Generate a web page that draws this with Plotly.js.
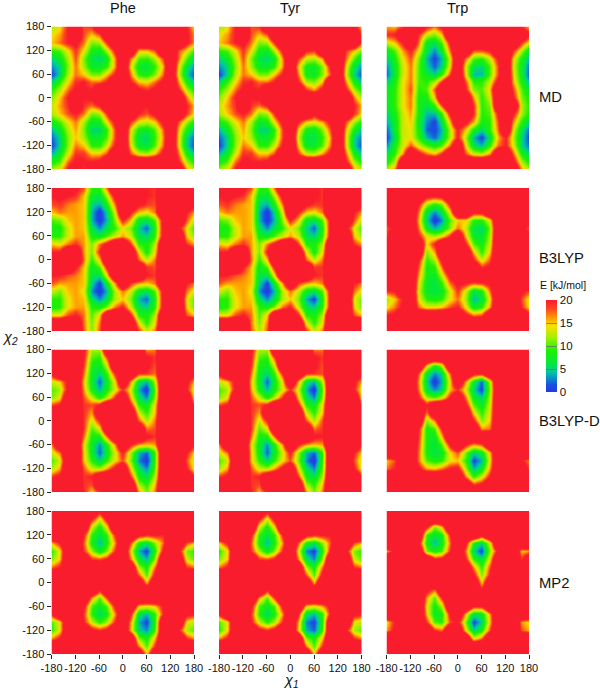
<!DOCTYPE html>
<html><head><meta charset="utf-8">
<script src="https://cdn.plot.ly/plotly-3.0.1.min.js"></script>
<style>html,body{margin:0;padding:0;background:#fff}</style></head>
<body><div id="plot" style="width:600px;height:691px"></div>
<script>
const chi1 = [-180,-160,-140,-120,-100,-80,-60,-40,-20,0,20,40,60,80,100,120,140,160,180];
const chi2 = [180,160,140,120,100,80,60,40,20,0,-20,-40,-60,-80,-100,-120,-140,-160,-180];
const residues = ["Phe","Tyr","Trp"];
const methods = ["MD","B3LYP","B3LYP-D","MP2"];
const tickVals = [-180,-120,-60,0,60,120,180];
const offScale = 28;

const pheMD = [
[12,14,20,22,18,19,22,22,22,22,22,22,22,22,22,22,22,20,14],
[14,16,20,22,18,15,18,22,22,22,22,22,22,22,22,22,22,21,16],
[15,17,20,21,17,11,12,19,22,22,22,22,22,22,22,22,22,21,16],
[9,10,14,19,14,8,7,12,20,22,22,15,15,18,22,22,18,14,9],
[5,7,12,18,11,6,5,7,16,22,17,10,9,12,18,22,17,10,5],
[3,5,11,17,12,7,7,9,16,22,14,7,6,9,15,22,14,6,3],
[1,5,12,17,15,11,11,15,20,22,17,9,8,11,17,22,13,5,1],
[5,9,14,19,20,17,17,20,22,22,20,15,14,17,21,22,16,8,4],
[9,12,17,21,20,20,22,22,22,22,22,21,19,21,22,22,20,12,8],
[11,15,20,22,20,21,22,22,22,22,22,22,22,22,22,22,22,17,11],
[13,16,19,22,19,17,20,22,22,22,22,21,20,22,22,22,22,20,15],
[12,15,18,20,17,11,12,19,22,22,22,20,18,21,22,22,22,19,14],
[8,10,14,17,12,7,8,14,21,22,19,14,13,15,21,22,18,12,8],
[4,7,12,16,11,5,5,9,18,22,14,8,7,10,17,22,15,8,4],
[2,5,11,15,12,7,7,10,18,22,13,6,5,9,16,22,14,5,2],
[1,5,11,17,15,9,9,13,20,22,14,7,6,10,17,22,14,5,1],
[4,7,13,19,19,15,15,18,22,22,18,13,12,15,21,22,17,8,4],
[8,10,17,21,20,20,21,22,22,22,22,22,22,22,22,22,20,12,8],
[12,14,20,22,19,22,22,22,22,22,22,22,22,22,22,22,22,16,12]];

const tyrMD = [
[12,14,20,22,18,19,22,22,22,22,22,22,22,22,22,22,22,21,15],
[14,16,20,22,18,15,18,22,22,22,22,22,22,22,22,22,22,22,17],
[15,17,20,21,17,11,12,19,22,22,22,22,22,22,22,22,22,22,17],
[9,10,14,19,14,8,7,12,20,22,22,20,19,22,22,22,19,15,10],
[5,7,12,18,11,6,5,7,16,22,19,13,12,16,22,22,17,10,5],
[3,5,11,17,12,7,7,9,16,22,15,8,7,11,20,22,14,6,3],
[1,5,12,17,15,11,11,15,20,22,17,8,7,11,18,22,13,5,1],
[5,9,14,19,20,17,17,20,22,22,20,12,11,15,22,22,16,8,4],
[9,12,17,21,20,20,22,22,22,22,22,19,16,21,22,22,20,12,8],
[11,15,20,22,20,21,22,22,22,22,22,22,22,22,22,22,22,17,11],
[13,16,19,22,19,17,20,22,22,22,22,22,22,22,22,22,22,20,15],
[12,15,18,20,17,11,12,19,22,22,22,22,21,22,22,22,22,19,14],
[8,10,14,17,12,7,8,14,21,22,20,15,14,16,21,22,18,12,8],
[4,7,12,16,11,5,5,9,18,22,15,8,7,11,18,22,15,8,4],
[2,5,11,15,12,7,7,10,18,22,13,6,6,9,16,22,14,5,2],
[1,5,11,17,15,9,9,13,20,22,15,7,7,10,17,22,14,5,1],
[4,7,13,19,19,15,15,18,22,22,19,13,12,16,21,22,17,8,4],
[8,10,17,21,20,20,21,22,22,22,22,22,22,22,22,22,20,12,8],
[12,14,20,22,20,22,22,22,22,22,22,22,22,22,22,22,22,16,12]];

const trpMD = [
[16,15,19,22,22,20,17,21,22,22,22,22,22,22,22,22,22,19,15],
[19,20,22,22,19,13,11,15,22,22,22,22,22,22,22,22,22,22,20],
[13,15,20,22,17,7,6,10,20,22,22,22,22,22,22,22,22,19,13],
[7,10,16,20,14,6,3,7,17,22,22,18,18,20,22,22,19,12,6],
[5,8,14,18,11,4,1,4,13,22,17,10,9,13,20,22,14,8,4],
[3,7,13,17,10,5,2,5,14,22,13,6,5,10,18,22,13,7,2],
[2,7,13,17,10,7,5,9,18,22,14,4,4,10,18,22,14,7,1],
[5,8,14,17,10,9,12,19,22,22,18,9,9,13,21,22,15,8,4],
[7,9,14,18,9,10,18,22,22,22,20,11,10,15,22,22,18,10,6],
[7,9,14,17,8,8,15,22,22,22,22,16,9,13,22,22,20,11,8],
[7,9,14,17,8,6,9,18,22,22,22,19,9,11,22,22,22,12,9],
[5,8,13,16,8,4,4,9,20,22,22,19,9,10,20,22,20,12,8],
[4,7,13,15,7,3,1,6,15,22,21,16,8,9,18,22,16,9,5],
[2,7,13,14,8,2,1,4,12,20,15,8,5,9,17,22,13,6,2],
[1,6,13,14,9,4,2,5,12,20,12,4,1,6,15,20,12,5,1],
[3,8,13,18,13,10,8,10,17,22,14,6,4,9,17,20,13,5,2],
[6,9,16,22,21,17,15,19,22,22,18,13,12,16,22,22,17,8,5],
[8,12,22,22,22,22,22,22,22,22,22,22,22,22,22,22,21,12,8],
[12,17,22,22,22,22,22,22,22,22,22,22,22,22,22,22,22,16,12]];

const pheB3 = [
[20,22,22,21,18,9,9,17,22,22,22,22,20,19,22,22,22,22,22],
[20,21,20,19,15,7,6,12,21,22,22,22,20,19,22,22,22,22,22],
[18,19,17,16,15,5,4,8,17,22,22,21,19,18,22,22,22,22,20],
[15,17,16,16,15,4,0,5,13,22,20,15,14,17,22,22,22,20,16],
[10,11,15,16,15,4,0,4,11,20,15,7,6,10,21,22,22,18,12],
[8,8,13,16,15,6,3,6,9,14,11,5,2,8,21,22,21,14,9],
[9,9,13,16,16,8,7,10,13,16,13,6,5,9,21,22,22,15,11],
[15,14,17,19,16,11,17,21,22,22,19,9,8,12,22,22,22,19,16],
[20,20,22,22,16,11,20,22,22,22,22,14,8,14,22,22,22,22,21],
[22,22,22,22,17,9,15,22,22,22,22,18,13,17,22,22,22,22,22],
[21,22,22,20,15,7,10,20,22,22,22,22,19,18,22,22,22,22,22],
[20,20,18,17,15,6,6,14,22,22,22,22,20,19,22,22,22,22,22],
[18,16,16,16,15,5,1,7,16,22,19,16,15,17,22,22,22,20,17],
[13,11,15,16,14,3,0,4,12,17,13,7,6,10,21,22,22,17,13],
[9,9,14,16,15,6,3,6,12,15,11,4,2,8,21,22,22,14,10],
[8,9,14,16,16,9,8,11,17,20,13,6,5,9,21,22,22,15,10],
[14,14,18,20,17,10,15,22,22,22,20,9,8,12,22,22,22,18,15],
[22,22,22,22,17,11,17,22,22,22,22,14,9,14,22,22,22,22,22],
[22,22,22,22,18,11,18,22,22,22,22,19,13,17,22,22,22,22,22]];

const tyrB3 = [
[20,22,22,21,18,9,9,17,22,22,22,22,21,19,22,22,22,22,22],
[20,21,20,19,15,7,6,12,21,22,22,22,21,19,22,22,22,22,22],
[18,19,17,16,15,5,4,8,17,22,22,21,19,19,22,22,22,22,20],
[15,17,16,16,15,4,0,5,13,22,20,15,14,17,22,22,22,20,16],
[10,11,15,16,15,4,0,4,11,20,15,7,6,10,21,22,22,18,12],
[8,8,13,16,15,6,3,6,9,14,11,5,2,8,21,22,21,14,9],
[9,9,13,16,16,8,7,10,13,16,13,6,5,9,21,22,22,15,11],
[15,14,17,19,16,11,17,21,22,22,19,9,8,12,22,22,22,19,16],
[20,20,22,22,16,11,20,22,22,22,22,14,8,14,22,22,22,22,21],
[22,22,22,22,17,9,15,22,22,22,22,18,13,17,22,22,22,22,22],
[21,22,22,20,15,7,10,20,22,22,22,22,19,19,22,22,22,22,22],
[20,20,18,17,15,6,6,14,22,22,22,22,20,19,22,22,22,22,22],
[18,16,16,16,15,5,1,7,16,22,19,16,15,17,22,22,22,20,17],
[13,11,15,16,14,3,0,4,12,17,13,7,6,10,21,22,22,17,13],
[9,9,14,16,15,6,3,6,12,15,11,4,1,8,21,22,22,14,10],
[8,9,14,16,16,9,8,11,17,20,13,6,5,9,21,22,22,15,10],
[14,14,18,20,17,10,15,22,22,22,20,9,8,12,22,22,22,18,15],
[22,22,22,22,17,11,17,22,22,22,22,14,9,14,22,22,22,22,22],
[22,22,22,22,18,12,18,22,22,22,22,19,13,17,22,22,22,22,22]];

const trpB3 = [
[22,22,22,22,22,22,22,22,22,22,22,22,22,22,22,22,22,22,22],
[22,22,22,22,22,21,20,21,22,22,22,22,22,22,22,22,22,22,22],
[22,22,22,22,20,12,9,11,20,22,22,22,22,22,22,22,22,22,22],
[22,22,22,22,17,6,3,6,14,22,22,21,21,22,22,22,22,22,22],
[21,22,22,22,15,5,0,3,10,15,15,9,9,14,22,22,22,22,21],
[18,21,22,22,17,7,4,6,11,17,13,6,5,11,22,22,22,21,18],
[19,22,22,22,20,14,12,14,19,22,15,7,6,12,22,22,22,22,19],
[22,22,22,22,22,14,20,22,22,22,20,10,8,13,22,22,22,22,22],
[22,22,22,22,22,11,16,22,22,22,22,15,9,15,22,22,22,22,22],
[22,22,22,22,20,9,12,21,22,22,22,20,13,18,22,22,22,22,22],
[22,22,22,22,18,8,9,17,22,22,22,22,19,21,22,22,22,22,22],
[22,22,22,22,16,8,7,13,21,22,22,22,22,22,22,22,22,22,22],
[22,22,22,22,14,7,6,9,17,21,20,18,19,21,22,22,22,22,22],
[19,20,22,22,13,7,6,7,13,19,13,6,8,17,22,22,22,21,18],
[12,15,20,22,14,9,8,9,14,17,12,4,6,14,22,22,22,18,13],
[14,17,21,22,17,14,14,15,18,20,14,7,9,16,22,22,22,19,14],
[20,21,22,22,22,22,22,22,22,22,21,17,18,22,22,22,22,22,20],
[22,22,22,22,22,22,22,22,22,22,22,22,22,22,22,22,22,22,22],
[22,22,22,22,22,22,22,22,22,22,22,22,22,22,22,22,22,22,22]];

const pheD = [
[22,22,22,22,21,12,12,22,22,22,22,22,16,17,22,22,22,22,22],
[22,22,22,22,20,10,9,18,22,22,22,22,21,19,22,22,22,22,22],
[22,22,22,22,19,8,7,13,22,22,22,22,21,18,22,22,22,22,22],
[21,22,22,22,17,7,5,9,19,22,22,19,19,17,22,22,22,22,21],
[13,15,21,22,15,7,2,7,14,22,16,6,4,12,22,22,22,21,15],
[10,12,21,22,16,8,4,8,13,19,13,4,0,10,22,22,22,20,12],
[11,14,22,22,18,13,8,12,19,22,15,6,3,11,22,22,22,22,13],
[18,20,22,22,19,18,20,22,22,22,20,9,7,14,22,22,22,22,18],
[22,22,22,22,19,16,22,22,22,22,22,13,9,15,22,22,22,22,22],
[22,22,22,22,19,13,20,22,22,22,22,18,12,17,22,22,22,22,22],
[22,22,22,22,19,10,14,22,22,22,22,22,17,18,22,22,22,22,22],
[22,22,22,22,17,8,8,17,22,22,22,22,21,19,22,22,22,22,22],
[17,22,22,22,14,7,3,8,16,22,20,16,15,16,22,22,22,22,19],
[13,17,22,22,15,7,2,7,13,20,12,4,2,9,22,22,22,20,14],
[10,13,22,22,15,9,5,9,14,18,11,3,0,9,22,22,22,18,12],
[12,16,22,22,18,13,12,16,21,22,14,6,3,10,22,22,22,20,13],
[19,21,22,22,19,20,22,22,22,22,19,8,6,12,22,22,22,22,19],
[22,22,22,22,19,18,22,22,22,22,22,12,9,15,22,22,22,22,22],
[22,22,22,22,20,14,18,22,22,22,22,17,11,17,22,22,22,22,22]];

const tyrD = [
[22,22,22,22,21,12,12,22,22,22,22,22,17,17,22,22,22,22,22],
[22,22,22,22,20,10,9,18,22,22,22,22,21,19,22,22,22,22,22],
[22,22,22,22,19,8,7,13,22,22,22,22,21,18,22,22,22,22,22],
[21,22,22,22,17,7,5,9,19,22,22,19,19,18,22,22,22,22,21],
[13,15,21,22,15,7,2,7,14,22,16,6,4,12,22,22,22,21,15],
[10,12,21,22,16,8,4,8,13,19,13,4,0,10,22,22,22,20,12],
[11,14,22,22,18,13,8,12,19,22,15,6,3,11,22,22,22,22,13],
[18,20,22,22,19,18,20,22,22,22,20,9,7,14,22,22,22,22,18],
[22,22,22,22,19,16,22,22,22,22,22,13,9,15,22,22,22,22,22],
[22,22,22,22,19,13,20,22,22,22,22,18,12,18,22,22,22,22,22],
[22,22,22,22,19,10,14,22,22,22,22,22,17,19,22,22,22,22,22],
[22,22,22,22,17,8,8,17,22,22,22,22,21,20,22,22,22,22,22],
[17,22,22,22,14,7,3,8,16,22,20,16,15,16,22,22,22,22,19],
[13,17,22,22,15,7,2,7,13,20,12,4,2,9,22,22,22,20,14],
[10,13,22,22,15,9,5,9,14,18,11,3,0,9,22,22,22,18,12],
[12,16,22,22,18,13,12,16,21,22,14,6,3,10,22,22,22,20,13],
[19,21,22,22,19,20,22,22,22,22,19,8,6,12,22,22,22,22,19],
[22,22,22,22,19,18,22,22,22,22,22,12,9,15,22,22,22,22,22],
[22,22,22,22,20,15,19,22,22,22,22,17,11,17,22,22,22,22,22]];

const trpD = [
[22,22,22,22,22,22,22,22,22,22,22,22,22,22,22,22,22,22,22],
[22,22,22,22,22,22,22,22,22,22,22,22,22,22,22,22,22,22,22],
[22,22,22,22,22,15,8,12,22,22,22,22,22,22,22,22,22,22,22],
[22,22,22,22,18,6,3,5,17,22,22,21,20,22,22,22,22,22,22],
[22,22,22,22,16,5,0,4,14,22,16,7,2,12,22,22,22,22,22],
[22,22,22,22,17,6,3,5,15,19,13,5,1,11,22,22,22,22,22],
[22,22,22,22,20,12,10,13,20,22,17,7,5,12,22,22,22,22,22],
[22,22,22,22,22,20,22,22,22,22,21,10,7,13,22,22,22,22,22],
[22,22,22,22,22,17,22,22,22,22,22,14,9,14,22,22,22,22,22],
[22,22,22,22,22,11,17,22,22,22,22,20,11,15,22,22,22,22,22],
[22,22,22,22,20,8,10,20,22,22,22,22,16,17,22,22,22,22,22],
[22,22,22,22,19,8,7,15,22,22,22,22,22,22,22,22,22,22,22],
[22,22,22,22,18,8,6,10,20,22,20,16,18,22,22,22,22,22,22],
[22,22,22,22,17,8,6,7,14,18,11,5,7,15,22,22,22,22,22],
[15,18,22,22,17,10,8,9,14,15,9,1,4,14,22,22,22,20,16],
[17,20,22,22,21,16,15,17,20,21,12,4,7,16,22,22,22,22,17],
[22,22,22,22,22,22,22,22,22,22,17,9,13,20,22,22,22,22,22],
[22,22,22,22,22,22,22,22,22,22,22,19,21,22,22,22,22,22,22],
[22,22,22,22,22,22,22,22,22,22,22,22,22,22,22,22,22,22,22]];

const pheMP2 = [
[22,22,22,22,22,22,21,22,22,22,22,22,22,21,22,22,22,22,22],
[22,22,22,22,22,20,13,21,22,22,22,22,22,22,22,22,22,22,22],
[22,22,22,22,22,13,8,14,22,22,22,22,22,22,22,22,22,22,22],
[22,22,22,22,20,9,6,9,19,22,22,21,19,20,19,22,22,22,22],
[15,20,22,22,18,8,4,8,16,22,18,8,6,11,17,22,22,18,15],
[9,14,22,22,19,12,7,11,19,22,14,4,1,8,20,22,21,11,9],
[11,15,22,22,22,19,18,20,22,22,17,7,4,11,22,22,22,13,10],
[17,20,22,22,22,22,22,22,22,22,22,12,8,17,22,22,22,19,17],
[22,22,22,22,22,22,22,22,22,22,22,18,10,21,22,22,22,22,22],
[22,22,22,22,22,22,22,22,22,22,22,22,16,22,22,22,22,22,22],
[22,22,22,22,22,22,20,22,22,22,22,22,22,22,22,22,22,22,22],
[22,22,22,22,22,16,10,18,22,22,22,22,22,22,22,22,22,22,22],
[22,22,22,22,21,10,7,10,20,22,22,15,14,15,20,22,22,22,22],
[20,22,22,22,19,9,5,8,16,22,20,6,4,9,19,22,22,21,20],
[10,14,22,22,20,13,9,12,19,22,16,4,1,8,22,22,22,14,12],
[9,14,22,22,22,21,19,21,22,22,15,5,3,9,22,22,20,12,10],
[16,20,22,22,22,22,22,22,22,22,22,11,8,15,22,22,22,19,16],
[22,22,22,22,22,22,22,22,22,22,22,17,10,19,22,22,22,22,22],
[22,22,22,22,22,22,22,22,22,22,22,22,15,22,22,22,22,22,22]];

const tyrMP2 = [
[22,22,22,22,22,22,21,22,22,22,22,22,22,22,22,22,22,22,22],
[22,22,22,22,22,20,13,21,22,22,22,22,22,22,22,22,22,22,22],
[22,22,22,22,22,13,8,14,22,22,22,22,22,22,22,22,22,22,22],
[22,22,22,22,20,9,6,9,19,22,22,21,19,20,20,22,22,22,22],
[15,20,22,22,18,8,4,8,16,22,18,8,6,11,18,22,22,18,15],
[9,14,22,22,19,12,7,11,19,22,14,3,1,8,20,22,21,11,9],
[11,15,22,22,22,19,18,20,22,22,17,6,3,11,22,22,22,13,10],
[17,20,22,22,22,22,22,22,22,22,22,12,8,17,22,22,22,19,17],
[22,22,22,22,22,22,22,22,22,22,22,18,10,21,22,22,22,22,22],
[22,22,22,22,22,22,22,22,22,22,22,22,16,22,22,22,22,22,22],
[22,22,22,22,22,22,20,22,22,22,22,22,22,22,22,22,22,22,22],
[22,22,22,22,22,16,10,18,22,22,22,22,22,22,22,22,22,22,22],
[22,22,22,22,21,10,7,10,20,22,22,15,14,16,21,22,22,22,22],
[20,22,22,22,19,9,5,8,16,22,20,6,4,9,20,22,22,21,20],
[10,14,22,22,20,13,9,12,19,22,16,3,1,8,22,22,22,14,12],
[9,14,22,22,22,21,19,21,22,22,15,4,2,9,22,22,20,12,10],
[16,20,22,22,22,22,22,22,22,22,22,11,8,15,22,22,22,19,16],
[22,22,22,22,22,22,22,22,22,22,22,17,10,19,22,22,22,22,22],
[22,22,22,22,22,22,22,22,22,22,22,22,15,22,22,22,22,22,22]];

const trpMP2 = [
[22,22,22,22,22,22,22,22,22,22,22,22,22,22,22,22,22,22,22],
[22,22,22,22,22,22,22,22,22,22,22,22,22,22,22,22,22,22,22],
[22,22,22,22,22,20,11,15,22,22,22,22,22,22,22,22,22,22,22],
[22,22,22,22,22,9,6,8,19,22,22,22,21,22,22,22,22,22,22],
[22,22,22,22,21,8,4,7,17,22,21,8,5,13,22,22,22,22,22],
[16,21,22,22,22,11,8,10,19,22,17,5,1,11,21,22,22,15,16],
[22,22,22,22,22,22,20,21,22,22,20,9,6,14,22,22,22,19,22],
[22,22,22,22,22,22,22,22,22,22,22,16,9,18,22,22,22,22,22],
[22,22,22,22,22,22,22,22,22,22,22,21,11,20,22,22,22,22,22],
[22,22,22,22,22,22,22,22,22,22,22,22,15,22,22,22,22,22,22],
[22,22,22,22,22,21,17,22,22,22,22,22,21,22,22,22,22,22,22],
[22,22,22,22,22,16,10,19,22,22,22,22,22,22,22,22,22,22,22],
[22,22,22,22,22,14,8,12,22,22,22,20,20,22,22,22,22,22,22],
[22,22,22,22,22,15,7,8,20,22,15,6,7,16,22,22,22,22,22],
[14,20,22,22,22,19,10,9,18,21,11,1,5,15,22,22,22,16,14],
[16,21,22,22,22,22,19,17,22,22,14,5,8,18,22,22,22,18,15],
[22,22,22,22,22,22,22,22,22,22,22,13,17,22,22,22,22,22,22],
[22,22,22,22,22,22,22,22,22,22,22,22,22,22,22,22,22,22,22],
[22,22,22,22,22,22,22,22,22,22,22,22,22,22,22,22,22,22,22]];

const grids = [[pheMD,tyrMD,trpMD],[pheB3,tyrB3,trpB3],[pheD,tyrD,trpD],[pheMP2,tyrMP2,trpMP2]];

const W=600,H=691;
const colX=[[51.5,194],[219,361.5],[386.5,529]];
const rowY=[[26.5,169],[188,331],[349.5,492],[511,654]];
const scale=[[0,'#1f3ce8'],[0.08,'#1a50e0'],[0.15,'#0a90c8'],[0.22,'#00c8a0'],[0.3,'#00e840'],[0.45,'#20f000'],[0.6,'#a8f000'],[0.72,'#f8e000'],[0.8,'#ffa000'],[0.9,'#ff4820'],[1,'#f81c2c']];
const font='"Liberation Sans",Arial,sans-serif';
const traces=[];
const layout={width:W,height:H,margin:{l:0,r:0,t:0,b:0},paper_bgcolor:'#fff',plot_bgcolor:'#fff',showlegend:false,annotations:[],font:{family:font,color:'#111'}};
let n=0;
grids.forEach((row,r)=>row.forEach((z,c)=>{
  n++;
  const s=n===1?'':String(n);
  const zz=z.slice().reverse().map(line=>line.map(v=>v>=22?offScale:v));
  traces.push({type:'heatmap',x:chi1,y:chi2.slice().reverse(),z:zz,xaxis:'x'+s,yaxis:'y'+s,
    zmin:0,zmax:20,zsmooth:'best',colorscale:scale,showscale:n===12,hoverinfo:'skip',
    colorbar:n===12?{thicknessmode:'pixels',thickness:11,lenmode:'pixels',len:92,x:546/W,xanchor:'left',y:1-346/H,yanchor:'middle',
      xpad:0,ypad:0,outlinewidth:0,ticks:'inside',ticklen:11,tickcolor:'rgba(90,90,120,0.6)',tickwidth:1,tickvals:[0,5,10,15,20],tickfont:{size:11.5,family:font,color:'#111'}}:undefined});
  const common={range:[-180,180],tickvals:tickVals,ticktext:tickVals.map(String),tickangle:0,showgrid:false,zeroline:false,showline:false,ticklen:4,tickwidth:1,tickcolor:'#222',tickfont:{size:11,family:font,color:'#111'}};
  layout['xaxis'+s]=Object.assign({},common,{anchor:'y'+s,domain:[colX[c][0]/W,colX[c][1]/W],showticklabels:r===3,ticks:r===3?'outside':''});
  layout['yaxis'+s]=Object.assign({},common,{anchor:'x'+s,domain:[1-rowY[r][1]/H,1-rowY[r][0]/H],showticklabels:c===0,ticks:c===0?'outside':''});
}));
function note(text,px,py,size,extra){layout.annotations.push(Object.assign({xref:'paper',yref:'paper',x:px/W,y:1-py/H,text:text,showarrow:false,xanchor:'center',yanchor:'middle',font:{size:size,family:font,color:'#111'}},extra||{}));}
residues.forEach((t,i)=>note(t,(colX[i][0]+colX[i][1])/2,8,14.5));
methods.forEach((t,i)=>note(t,537,[97,258,421,583][i],14.8,{xanchor:'left'}));
note('<i>χ</i><sub><i>2</i></sub>',10,338,14.5);
note('<i>χ</i><sub><i>1</i></sub>',291,681,14.5);
note('E [kJ/mol]',563,285,10.5);
Plotly.newPlot('plot',traces,layout,{displayModeBar:false,staticPlot:true});
</script></body></html>
